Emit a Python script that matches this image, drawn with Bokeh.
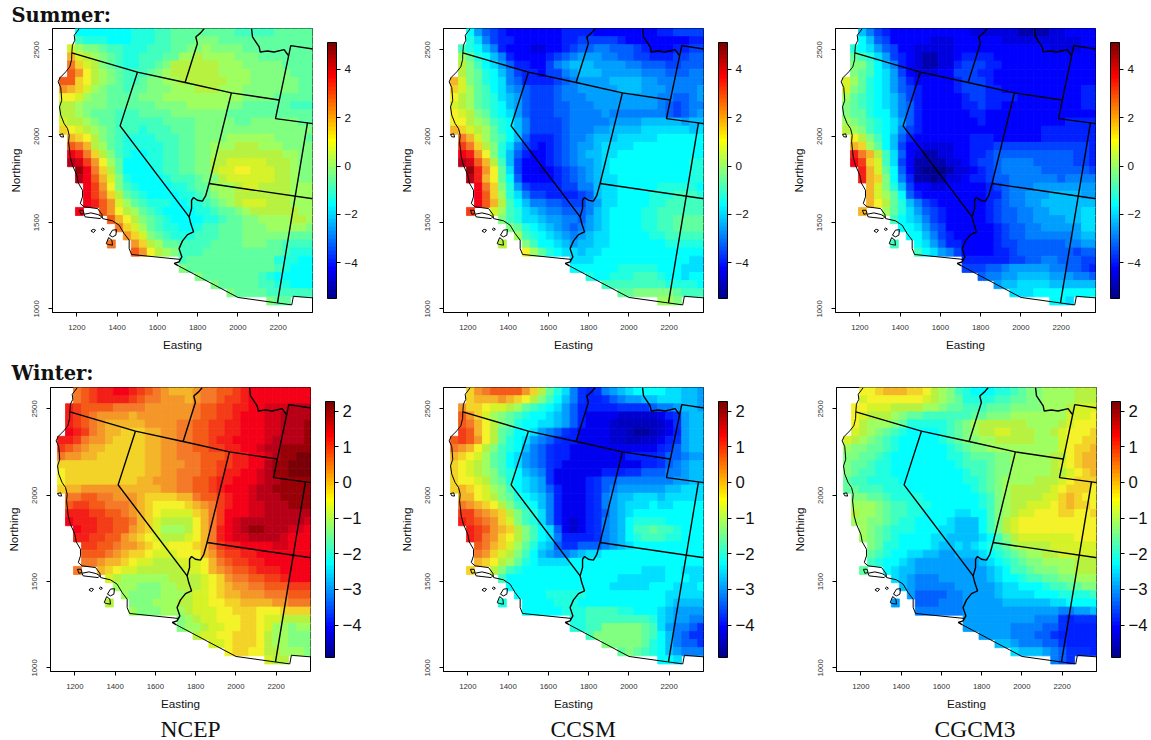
from bokeh.embed import file_html
from bokeh.resources import INLINE
from bokeh.plotting import figure
from bokeh.layouts import column, row
from bokeh.models import (ColorBar, ColumnDataSource, FixedTicker, LinearColorMapper, Range1d, Title)
from bokeh.transform import transform

# Palette: 64 steps dark blue -> cyan -> yellow -> red -> dark red
PALETTE = ["#00008F","#00009F","#0000AF","#0000BF","#0000CF","#0000DF","#0000EF","#0000FF",
"#0010FF","#0020FF","#0030FF","#0040FF","#0050FF","#0060FF","#0070FF","#0080FF",
"#008FFF","#009FFF","#00AFFF","#00BFFF","#00CFFF","#00DFFF","#00EFFF","#00FFFF",
"#10FFEF","#20FFDF","#30FFCF","#40FFBF","#50FFAF","#60FF9F","#70FF8F","#80FF80",
"#8FFF70","#9FFF60","#AFFF50","#BFFF40","#CFFF30","#DFFF20","#EFFF10","#FFFF00",
"#FFEF00","#FFDF00","#FFCF00","#FFBF00","#FFAF00","#FF9F00","#FF8F00","#FF8000",
"#FF7000","#FF6000","#FF5000","#FF4000","#FF3000","#FF2000","#FF1000","#FF0000",
"#EF0000","#DF0000","#CF0000","#BF0000","#AF0000","#9F0000","#8F0000","#800000"]


def soften(c):
    # the map cells print a little duller than the colour bar in the warm half
    r, g, b = int(c[1:3], 16), int(c[3:5], 16), int(c[5:7], 16)
    if r > 0x70 and b < 0x60:
        floor = 0x28 if g > 0x70 else 0x18 if r > 0xA0 else 0x08
        r, g, b = int(r * 0.96), int(g * 0.95), max(b, floor)
    return "#%02X%02X%02X" % (r, g, b)


CELL_PALETTE = [soften(c) for c in PALETTE]

LEVELS = "0123456789abcdefghijklmnopqrstuv"   # one character per cell, '.' = no data
SUMMER_RANGE = (-5.47, 5.10)
WINTER_RANGE = (-4.91, 2.27)
SUMMER_TICKS = [-4, -2, 0, 2, 4]
WINTER_TICKS = [-4, -3, -2, -1, 0, 1, 2]
X_TICKS = [1200, 1400, 1600, 1800, 2000, 2200]
Y_TICKS = [1000, 1500, 2000, 2500]

SUMMER_NCEP = [
"..bbbbbbbcccddeeeeeeeedddddeeeee",
"..dcccbbbcccddeeefffeeeeeeeeeeee",
".igffeddcccdddeeffgffffeeeeeeeee",
".lihgfedccdddeegghggggfffeeeeeee",
".nkihfedccddefhhhhhhgggfffffeeee",
".omjhgfedddefghhhhhhggggfffffeee",
"ookjhgfeddeffgghhhhhhgggffffffee",
"mlkigfeedeefffggghhhgggfffffffee",
"jjigffeeeefffggggggggggffffeeeee",
"hhgfffeeeeeeffffgggggffeeeeeeddd",
"hhgfeeedddeeeefffffffeeeeeeeeeee",
"ihhgfeeddddddeeeefffffeeffffffee",
"kjihgfedddcdddeeefffffffffffffff",
".lkjhfedccccdddeeffffggggggffffe",
".onlhgedcccccddeeffggghhhgggffff",
".rqnkhfdcbbccddeeffghhhhhhhhggff",
".tspmjgebbbccddeeffhhiiiiihhhgff",
"..urnkhebbbbcddeeffhiijjiiihhgff",
"..trolifcbbbbcdddeffhiiiiiihhgff",
"...rpmjfdcbbbbccdeeggghiihhhhggg",
"...rpnkhedcbbbbccdefgghhhhhhhggg",
"...rqomigedcccbbccdefghiiihhhggg",
"..r..omjhgedcbbbbccdeefghhhhhhgg",
"......oljhfedcbbbbccdeeffgggghhg",
".......nkigedccbbcddeeefffgggggf",
"........mkifedcccdddeeeffffffeee",
"......n..mkhgeeddddeeeefffeedddd",
".........omjhgfdddeeeeeeeeeedccc",
"...............deeeeeeeeeeecccbb",
"...............feeeeeeeeeeedcbbb",
".................feeeeeeedcbbbbb",
"...................feeeeeddccbbb",
".....................feeeedddddd",
"..........................fee...",
]
SUMMER_CCSM = [
"..b86543333333444433333333445555",
"..ca7544333333445555543333333344",
".dcb9743332233456677666543334455",
".gecb974333345678887766554445566",
".hfdba86443357899988887766655666",
".hfecb97544355789998888877766677",
"lifecba7644445678888999988777777",
"kigedba8765556778888899988877778",
"jhgedca9865556777888888888776678",
"ihgedcb9865556677788888888765677",
"jihfecba865556677778777777765678",
"jjhgfdcb975555677777888899999899",
"lkihgecb9755556777889999aaaaaa9a",
".nligedb9644456778999aaaaabbbbbb",
".pnkhfca75434567889aaaabbbbbbbbb",
".rqmjfc964334567899aabbbbbbbbbbb",
".tsolhd953334567889abbbbbbbbbbcc",
"..uqmjea53323456789abbbbbbbbbbcc",
"..tqljeb63333456789aabbbbbbbbbcc",
"...rnkfc85444455779aabbbbbcccccb",
"...rokgca7554444569aabbbbcccdddc",
"...rolhdb9776655578aabbbbccddddd",
"..p..igdca987766679abbbbccdddddd",
"......fdcaa98877689abbbbccddeeee",
".......fecba9876789abbbbccddeeee",
"........gdcba98789aabbbbbccddddd",
"......h..fdbba9899aabbbbbbbccccc",
".........jgecbaa9aabbbbbbbbbbbbb",
"...............aaabbbbbbbbbbbbaa",
"...............bbbbbbcccccbbbaaa",
".................cbbcccdddcbbabb",
"...................ddddddddccccb",
".....................eefffffeddd",
"..........................ggf...",
]
SUMMER_CGCM3 = [
"..975433333333332222221111223333",
"..b96533333222333333222222222233",
".cba8653322222333333333333222233",
".edca854321122344443333333333333",
".ffdb974321122455544333333333333",
".fedba85322233555443333333333333",
"igecba86433333455543333333333333",
"ifecba86543333455544333333333344",
"gedcba97543333345544443333333344",
"fedcba97643333344544333333333344",
"feecbb97643333334433333333333333",
"gfedcba8643333333433333333334444",
"hgfdcba7543333333333333334444444",
".jhfdb96433333334443333334444444",
".lkgeb95332222334445555555555554",
".qnlhda6321122334456666666666554",
".rpkida5311112234556777766666554",
"..qlieb6310001223456777776666665",
"..qlkfb7411012234456677777767777",
"...lifc9533223333345677788888888",
"...ligeb643333333344677888999988",
"...ljhec975433333345677889999999",
"..l..geca865433333456677889999aa",
"......dba975433333456677888899aa",
".......bba86533333345667788888aa",
"........bb9754333334566777777899",
"......d..ba864433334556666667788",
".........dba87533334456666666566",
"...............44444455667766655",
"...............55566788888776654",
".................677889999888776",
"...................899aaaa999999",
".....................aaabbbbbbbb",
"..........................bba...",
]
WINTER_NCEP = [
"..nopqqrrqponmlllmnnoopqrrrrrrrr",
"..nopqqqqponnmmmlmnnoppqrrrrrrrr",
".qpoooonnnnmmmmmmnooppqqrrsssttt",
".qponmmmmlmmmmmmmnooppqrrrsstttt",
".qponmlllllmmmmnnooppqqrrrsstttu",
".rqpnmllkkkllmmnnooppqqrrrsstttu",
"qqpnmmlkkkkllmmnnoopqqrrrrsttttu",
"ponmllkkkkkllmmnnooppqqrrsttuuuu",
"nmmllkkkkkkllmmnnnooopqqrrstuuvv",
"kkkkkkkkkkkllmmmnnooppqqrrtuuvvv",
"jkkkkkkkkkkllmmnnnoopqqrrstuuvvv",
"jkkkkkkkkkllmmmnnoopqqrrrsttuuuu",
"kllmmmmmlllllmmnnoopqrrrsttuuuuu",
".nnoonnmmmlkkkkllnoopqrrstttuuuu",
".oppoonnnmlkjjjjklmnpqrrsstttuuu",
".qqqppoonmlkjiiiiklnprrrsstttttt",
".rqqqppoonlkihhhhjlnprstttttttts",
"..rqqppoomlkiggghjlnqrstuutttssr",
"..qqppoomlkjihhhijlnqrssttttsrrr",
"...ppoonmmlkjijjjklnpqqrrrrssrrr",
"...ooonmlkkjiiijjjlmoppqqrrrrrrr",
"...nnmllkjiihhhiiijlnoppqqrrrrrr",
"..n..lkjiihhhhhhiijlmnoopqqqrrrr",
"......ihgggggghhhhijkmnnooppqrrr",
".......gggfffgghhhijklmmnnoooppp",
"........gffffggghiijkllmmmnnnooo",
"......h..fffggghhiijjkkllllmmnnn",
".........gfffggghiiijjkkkjjjkkkk",
"...............fghiijjjkkjiihhhh",
"...............fgghiijjkkjiggfgg",
".................hiijjkkkjhggfff",
"...................iijkkkjhggfff",
".....................jkkjjhhgggf",
"..........................ihh...",
]
WINTER_CCSM = [
"..kmnoooomkheca7545789abbbbaa998",
"..klllmlkjhfdb975445678899aaa998",
".mkkjiihgedcba864444455556778998",
".omkigfedcbba9864333322222345899",
".onljhfecbbaa9864333211111235899",
".poljhedbba876543333221001234899",
"opomjhecba8765443333221122345899",
"nmljhfdcb97654433333333333456899",
"lkjigedba87654433333334444566788",
"kjihgedba87654333333333344567899",
"kjihgfdcb98753333334445566677899",
"kjjihfecba9853333456677777778899",
"klkjigfdba9864333456788888899aaa",
".lljihfecba974333457899aaa9aaaaa",
".nmlkjhfdcb97433345789aaabaabbbb",
".ppnmlkhfdca7433345689abbbbbbbbb",
".qponmkifdca7432345789bccccbbbbb",
"..qpomlkhfdba632345789bddeddcbbb",
"..qpnmkjhfdba744445789bcdddccbbb",
"...onlkigeca9655666789abbbbbbbbb",
"...nmkihfdb987789aabbbbbbbbbbbbb",
"...lkjhgecbaaaabbbbbbbbbbbbbbbbb",
"..k..hfdcbbbbbbbbbbbbbbbaaabbaaa",
"......dbbbbbbbbbbbbbbaaaaaabbbaa",
".......bbbbbbbbbbbbbaaaaabbbaaab",
"........bbbbcccccbbbbbbbbbbaaaaa",
"......c..bbbbcccbbbbbbbbbbba9999",
".........bbbbbcccddddccbbba98888",
"...............ccddddddddca98877",
"...............ccddfffffeda87765",
".................dffffffedb97655",
"...................fffffecb97665",
".....................efedcb98777",
"..........................bba...",
]
WINTER_CGCM3 = [
"..jjklllkkjhgfdcbbbccdeffgggghhh",
"..ijjjjjjjihgfeccccddeeffgggghhh",
".jjiiihhhhggfeedddeeeffffggghiii",
".jihhhgfeeddddddeefffgggggggiiij",
".jhgggfecccccdefghhhhhhgggghijjj",
".ihgfedcbbbbcdefghhiihhhgghijjjk",
"ihgfedcbbbbbcdeffgghhhhhgggijjkk",
"gffeedcbbbbbbcdeffgggggggggijkkl",
"ffeedcbbbbbbbccdeeeffggggghhjkll",
"feedccbbbbbbbbcdddeffggggghijkll",
"feddccbbbbbbbbbcddeffggggghhijkl",
"eddccccbbbbbbbbccdefgggghhhijkkk",
"eedddcccbbbbbbbbcdefghhhhhijkkkj",
".ffeedccccbbbbbbbcdfghhhhiiklkjj",
".gggfeddcccbbbbbbcdfghhiiijklkkj",
".hggfeddccbbbbaabbdfghiijjjkkjjk",
".ggffedccbbbba999bdfhijjjjjjjjjj",
"..gfedcccbbbaa999bdfhijjjjjjjjjj",
"..gfedcbbbbaa9999abdfhiiiiiiijjj",
"...feccbbbba99a9abcdeghhhhiiiiii",
"...edcbbaa9988999abcdefgghhiiiii",
"...dcbba9888888889abcdeffgggghhh",
"..e..ba998888888889abddefffgghhh",
"......a987778888889abbcddeeffggg",
".......9877777888889aabbbcddeeff",
"........866667788889aaaabbbccccd",
"......8..66677788888999999aabbbb",
".........77777788888888888877889",
"...............88888888877754555",
"...............88888877776654444",
".................888877766544444",
"...................9987776654444",
".....................a9998765554",
"..........................765...",
]

# Map outlines, in eastings / northings
COAST_X = [1212,1200,1187,1190,1178,1175,1174,1165,1145,1117,1107,1120,1125,1114,1120,1137,1154,1162,1159,1167,1178,1200,1207,1228,1228,1217,1236,1303,1324,1328,1377,1410,1435,1460,1460,1472,1717]
COAST_Y = [2624,2604,2585,2556,2527,2483,2444,2402,2373,2340,2315,2282,2208,2170,2122,2073,2044,2006,1967,1880,1832,1774,1730,1687,1649,1610,1591,1581,1548,1523,1510,1485,1436,1398,1349,1315,1286]
BORDER_X = [1705,2001,2192,2268,2276,2400]
BORDER_Y = [1249,1066,1035,1023,1073,1061]
RIVER_X = [1857,1841,1824,1799,1780,1770,1770,1758,1766,1780,1750,1725,1708,1722,1708,1684,1705]
RIVER_Y = [1726,1658,1624,1629,1645,1629,1581,1533,1494,1446,1430,1394,1349,1301,1272,1263,1249]
NORTH_X = [1175,1501,1738,1968,2205]
NORTH_Y = [2483,2371,2311,2251,2210]
CA_NV_X = [1501,1415,1758]
CA_NV_Y = [2371,2060,1533]
NV_UT_X = [1968,1857]
NV_UT_Y = [2251,1726]
ID_OR_X = [1738,1799,1791,1816,1833]
ID_OR_Y = [2311,2537,2575,2600,2624]
ID_MT_X = [2068,2073,2106,2111,2147,2180,2230,2250]
ID_MT_Y = [2624,2575,2517,2488,2494,2488,2502,2469]
WY_X = [2400,2263,2187,2400]
WY_Y = [2501,2525,2102,2069]
UT_CO_X = [2346,2197]
UT_CO_Y = [2077,1035]
UT_AZ_X = [1857,2400]
UT_AZ_Y = [1726,1633]
ISLANDS_X = [[1114,1130,1134,1120,1114],[1213,1231,1236,1220,1213],[1236,1270,1306,1324,1316,1270,1241,1236],
             [1270,1281,1293,1283,1270],[1321,1329,1337,1329,1321],[1362,1377,1397,1394,1377,1362],[1346,1358,1374,1377,1356,1346]]
ISLANDS_Y = [[2010,2014,1995,1997,2010],[1571,1571,1552,1548,1571],[1548,1556,1546,1533,1523,1529,1533,1548],
             [1452,1461,1456,1442,1452],[1461,1469,1461,1454,1461],[1427,1456,1459,1427,1417,1427],[1378,1413,1398,1369,1373,1378]]

X_LIMITS = (1079, 2371)
Y_LIMITS = (979, 2624)
GRID_X0, GRID_DX, GRID_Y0, GRID_DY = 1114, 39.6, 2624, 47.1


def cells(rows, vrange):
    left, right, top, bottom, val = [], [], [], [], []
    for i, r in enumerate(rows):
        r = r + r[-1] * (32 - len(r))
        for j, ch in enumerate(r[:32]):
            if ch == ".":
                continue
            left.append(GRID_X0 + j * GRID_DX)
            right.append(GRID_X0 + (j + 1) * GRID_DX)
            top.append(GRID_Y0 - i * GRID_DY)
            bottom.append(GRID_Y0 - (i + 1) * GRID_DY)
            val.append(vrange[0] + (LEVELS.index(ch) + 0.5) / 32 * (vrange[1] - vrange[0]))
    return dict(left=left, right=right, top=top, bottom=bottom, val=val)


def panel(rows, vrange, ticks, w, h, bl, bt, br, bb, bar_font):
    p = figure(width=w, height=h, x_range=Range1d(*X_LIMITS), y_range=Range1d(*Y_LIMITS),
               output_backend="svg", toolbar_location=None, min_border_left=bl, min_border_top=bt,
               min_border_right=br, min_border_bottom=bb, frame_width=260, frame_height=284)
    p.grid.visible = False
    p.outline_line_color = "black"
    p.outline_line_width = 1
    cell_mapper = LinearColorMapper(palette=CELL_PALETTE, low=vrange[0], high=vrange[1])
    bar_mapper = LinearColorMapper(palette=PALETTE, low=vrange[0], high=vrange[1])
    src = ColumnDataSource(cells(rows, vrange))
    p.quad(left="left", right="right", top="top", bottom="bottom", source=src,
           fill_color=transform("val", cell_mapper), line_color=transform("val", cell_mapper), line_width=0.8)
    p.multi_line([COAST_X] + ISLANDS_X + [BORDER_X], [COAST_Y] + ISLANDS_Y + [BORDER_Y], line_color="black", line_width=1)
    p.multi_line([RIVER_X, NORTH_X, CA_NV_X, NV_UT_X, ID_OR_X, ID_MT_X, WY_X, UT_CO_X, UT_AZ_X],
                 [RIVER_Y, NORTH_Y, CA_NV_Y, NV_UT_Y, ID_OR_Y, ID_MT_Y, WY_Y, UT_CO_Y, UT_AZ_Y],
                 line_color="black", line_width=1.4)
    for ax, tk, lab in ((p.xaxis[0], X_TICKS, "Easting"), (p.yaxis[0], Y_TICKS, "Northing")):
        ax.ticker = FixedTicker(ticks=tk)
        ax.axis_label = lab
        ax.axis_label_text_font = "Liberation Sans"
        ax.axis_label_text_font_style = "normal"
        ax.axis_label_text_font_size = "11.7px"
        ax.axis_label_text_color = "#111111"
        ax.major_label_text_font = "Liberation Sans"
        ax.major_label_text_font_size = "7.8px"
        ax.major_label_text_color = "#333333"
        ax.major_tick_in = 0
        ax.major_tick_out = 4
        ax.minor_tick_line_color = None
    p.xaxis[0].major_label_standoff = 8
    p.xaxis[0].axis_label_standoff = 5
    p.yaxis[0].major_label_standoff = 9
    p.yaxis[0].axis_label_standoff = 10
    p.yaxis[0].major_label_orientation = "vertical"
    overrides = {t: str(t).replace("-", "\u2212") for t in ticks}
    cb = ColorBar(color_mapper=bar_mapper, ticker=FixedTicker(ticks=ticks), major_label_overrides=overrides,
                  location=(275, 14), width=9, height=256, padding=0, margin=0,
                  bar_line_color="black", major_tick_line_color="black", major_tick_in=0, major_tick_out=4,
                  label_standoff=4, major_label_text_font="Liberation Sans", major_label_text_font_size=bar_font,
                  major_label_text_color="#111111", background_fill_alpha=0, border_line_color=None)
    p.add_layout(cb, "center")
    return p


H_TOP, H_BOT = 356, 384
top = [panel(SUMMER_NCEP, SUMMER_RANGE, SUMMER_TICKS, 396, H_TOP, 52, 28, 84, 44, "11.7px"),
       panel(SUMMER_CCSM, SUMMER_RANGE, SUMMER_TICKS, 388, H_TOP, 43, 28, 85, 44, "11.7px"),
       panel(SUMMER_CGCM3, SUMMER_RANGE, SUMMER_TICKS, 355, H_TOP, 43, 28, 52, 44, "11.7px")]
bot = [panel(WINTER_NCEP, WINTER_RANGE, WINTER_TICKS, 396, H_BOT, 50, 31, 86, 69, "16.7px"),
       panel(WINTER_CCSM, WINTER_RANGE, WINTER_TICKS, 388, H_BOT, 42, 31, 86, 69, "16.7px"),
       panel(WINTER_CGCM3, WINTER_RANGE, WINTER_TICKS, 355, H_BOT, 42, 31, 53, 69, "16.7px")]

for p, txt, off, so in ((top[0], "Summer:", -41, 3), (bot[0], "Winter:", -39, 6)):
    p.add_layout(Title(text=txt, text_font="DejaVu Serif", text_font_size="19.5px", text_font_style="bold",
                       text_color="#111111", align="left", offset=off, standoff=so), "above")
for p, name, off in zip(bot, ["NCEP", "CCSM", "CGCM3"], [110, 107, 98]):
    p.add_layout(Title(text=name, text_font="Liberation Serif", text_font_size="23.5px", text_font_style="normal",
                       text_color="#111111", align="left", offset=off, standoff=3), "below")

layout = column(row(*top, spacing=0), row(*bot, spacing=0), spacing=0)
open("out.html", "w").write(file_html(layout, INLINE))
